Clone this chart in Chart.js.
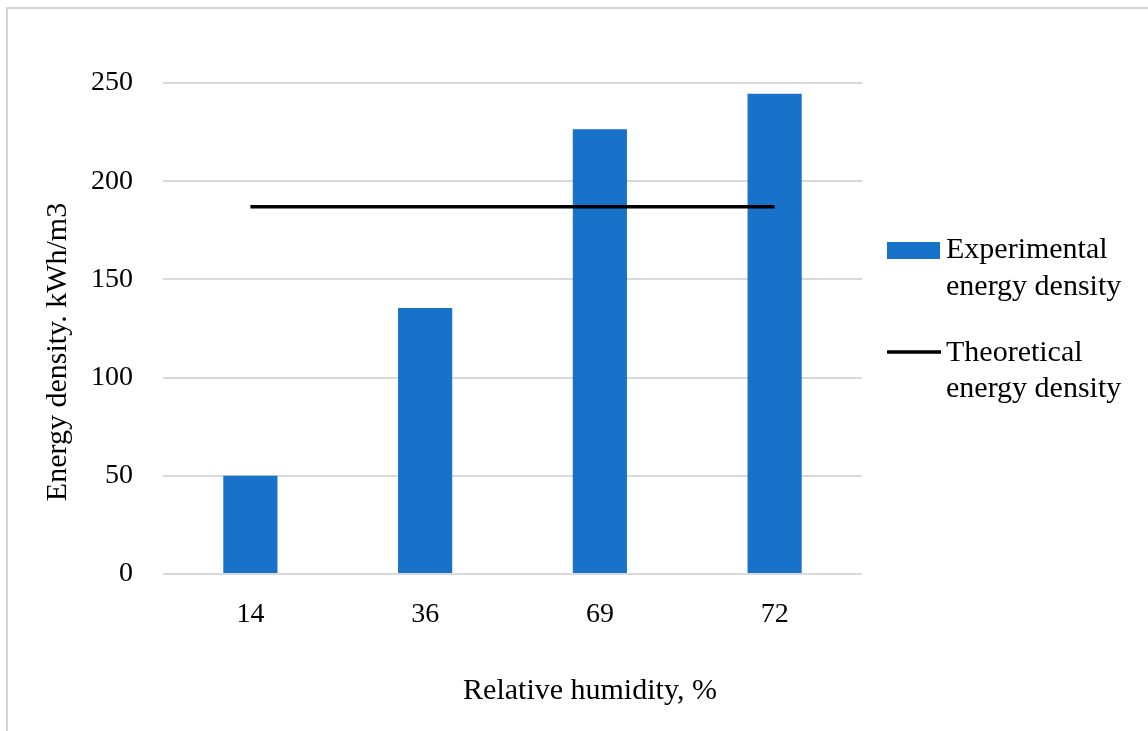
<!DOCTYPE html>
<html>
<head>
<meta charset="utf-8">
<script src="https://cdn.jsdelivr.net/npm/chart.js@4"></script>
<style>
  html, body { margin: 0; padding: 0; background: #fff; }
  #wrap { position: relative; width: 1148px; height: 731px; overflow: hidden; }
  #frame { position: absolute; left: 6px; top: 7px; width: 1160px; height: 740px;
           border-left: 2px solid #d4d4d4; border-top: 2px solid #d4d4d4; box-sizing: border-box; }
  canvas { position: absolute; left: 0; top: 0; }
</style>
</head>
<body>
<div id="wrap">
  <div id="frame"></div>
  <canvas id="chart" width="1148" height="731"></canvas>
</div>
<script>
// Relative humidity categories (%)
const categories = ['14', '36', '69', '72'];
// Measured energy density per humidity level (kWh/m3)
const experimental = [50, 135.5, 226.5, 244.5];
// Theoretical energy density (kWh/m3)
const theoretical = [187, 187, 187, 187];
// Legend entries, split over two lines
const legendLabels = [['Experimental', 'energy density'], ['Theoretical', 'energy density']];
const yTitle = 'Energy density. kWh/m3';
const xTitle = 'Relative humidity, %';

const FONT = '"Liberation Serif", "Times New Roman", serif';
const BAR_COLOR = '#1872c9';
const LINE_COLOR = '#000000';

// Axis titles and a two-line legend drawn around the chart area
const annotations = {
  id: 'annotations',
  afterDraw(chart) {
    const ctx = chart.ctx;
    const area = chart.chartArea;
    ctx.save();
    ctx.fillStyle = '#000';
    ctx.font = '30px ' + FONT;

    // y axis title
    ctx.save();
    ctx.translate(58, 352);
    ctx.rotate(-Math.PI / 2);
    ctx.textAlign = 'center';
    ctx.textBaseline = 'middle';
    ctx.fillText(yTitle, 0, 0);
    ctx.restore();

    // x axis title
    ctx.textAlign = 'center';
    ctx.textBaseline = 'middle';
    ctx.fillText(xTitle, 590, 691);

    // legend
    const lx = area.right + 25;
    const tx = lx + 59;
    ctx.textAlign = 'left';
    ctx.textBaseline = 'alphabetic';
    // bar series swatch
    ctx.fillStyle = BAR_COLOR;
    ctx.fillRect(lx, 242, 53, 17);
    ctx.fillStyle = '#000';
    ctx.fillText(legendLabels[0][0], tx, 258);
    ctx.fillText(legendLabels[0][1], tx, 295);
    // line series swatch
    ctx.strokeStyle = LINE_COLOR;
    ctx.lineWidth = 3.5;
    ctx.beginPath();
    ctx.moveTo(lx, 352);
    ctx.lineTo(lx + 54, 352);
    ctx.stroke();
    ctx.fillText(legendLabels[1][0], tx, 361);
    ctx.fillText(legendLabels[1][1], tx, 397);
    ctx.restore();
  }
};

new Chart(document.getElementById('chart'), {
  data: {
    labels: categories,
    datasets: [
      {
        type: 'line',
        label: 'Theoretical energy density',
        data: theoretical,
        borderColor: LINE_COLOR,
        borderWidth: 3.5,
        pointRadius: 0,
        fill: false,
        order: 0
      },
      {
        type: 'bar',
        label: 'Experimental energy density',
        data: experimental,
        backgroundColor: BAR_COLOR,
        categoryPercentage: 1.0,
        barPercentage: 0.31,
        order: 1
      }
    ]
  },
  options: {
    responsive: false,
    animation: false,
    devicePixelRatio: 1,
    layout: { padding: { top: 83, right: 286, bottom: 0, left: 0 } },
    plugins: {
      legend: { display: false },
      tooltip: { enabled: false }
    },
    scales: {
      x: {
        grid: { display: false },
        border: { display: false },
        ticks: { color: '#000', font: { family: FONT, size: 28 }, padding: 16 },
        afterFit(scale) { scale.height = 157; }
      },
      y: {
        min: 0,
        max: 250,
        ticks: { stepSize: 50, color: '#000', font: { family: FONT, size: 28 }, padding: 30 },
        grid: { color: '#d9d9d9', lineWidth: 2, drawTicks: false },
        border: { display: false },
        afterFit(scale) { scale.width = 163; }
      }
    }
  },
  plugins: [annotations]
});
</script>
</body>
</html>
